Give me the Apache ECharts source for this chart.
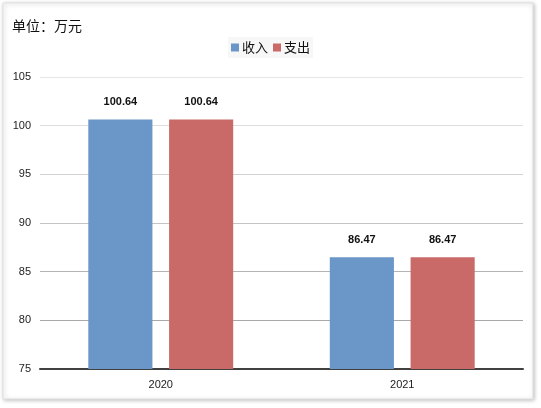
<!DOCTYPE html>
<html><head><meta charset="utf-8">
<script src="https://cdn.jsdelivr.net/npm/echarts@6/dist/echarts.min.js"></script>
<style>html,body{margin:0;padding:0;background:#fff}#c{width:541px;height:408px}</style>
</head><body><div id="c"></div>
<script>
const categories = ['2020', '2021'];
const incomeValues = [100.64, 86.47];
const expenseValues = [100.64, 86.47];
const seriesNames = ['收入', '支出'];
const yTicks = [75, 80, 85, 90, 95, 100, 105];

const chart = echarts.init(document.getElementById('c'));
const labelCfg = {show: true, position: 'top', distance: 12, fontSize: 11, fontWeight: 'bold', color: '#111', fontFamily: 'Liberation Sans, Arial, sans-serif'};
chart.setOption({
  animation: false,
  graphic: [{
    type: 'rect', shape: {x: 3, y: 3, width: 530, height: 396},
    style: {fill: '#fff', stroke: '#e0e0e0', lineWidth: 1, shadowBlur: 4, shadowColor: 'rgba(0,0,0,0.25)', shadowOffsetX: 1, shadowOffsetY: 1},
    z: -10
  }],
  title: {text: '单位：万元', left: 7, top: 14, textStyle: {fontSize: 14, fontWeight: 'normal', color: '#111', fontFamily: 'Noto Sans CJK SC'}},
  legend: {data: seriesNames, top: 37, left: 'center', itemWidth: 8, itemHeight: 8, itemGap: 5, icon: 'rect',
    backgroundColor: '#f7f7f7', padding: [4, 3],
    textStyle: {fontSize: 13, color: '#111', fontFamily: 'Noto Sans CJK SC', padding: [0, 0, 0, -2]}},
  grid: {left: 40, right: 18, top: 77, bottom: 39, containLabel: false},
  xAxis: {type: 'category', data: categories,
    axisLine: {lineStyle: {color: '#404040', width: 2}}, axisTick: {show: false},
    axisLabel: {fontSize: 11, color: '#222', margin: 10, fontFamily: 'Liberation Sans, Arial, sans-serif'}},
  yAxis: {type: 'value', min: 75, max: 105, interval: 5,
    axisLine: {show: false}, axisTick: {show: false},
    axisLabel: {fontSize: 11, color: '#222', margin: 9, fontFamily: 'Liberation Sans, Arial, sans-serif',
      formatter: v => yTicks.includes(v) ? String(v) : ''},
    splitLine: {lineStyle: {color: ['#404040', '#a8a8a8', '#b4b4b4', '#c4c4c4', '#d2d2d2', '#dedede', '#e6e6e6'], width: 1}}},
  series: [
    {name: seriesNames[0], type: 'bar', data: incomeValues, barGap: '26%', barCategoryGap: '40%',
      itemStyle: {color: '#6a96c8'}, label: labelCfg},
    {name: seriesNames[1], type: 'bar', data: expenseValues,
      itemStyle: {color: '#c96a68'}, label: labelCfg}
  ]
});
</script></body></html>
